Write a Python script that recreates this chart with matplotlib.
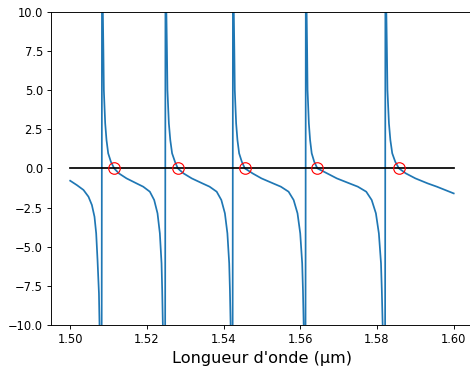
import numpy as np
import matplotlib
matplotlib.use("Agg")
import matplotlib.pyplot as plt

# values, one list per branch between the poles
lam_b0 = [1.5000, 1.50175, 1.50347, 1.50477, 1.50566, 1.50634, 1.50678,
          1.50713, 1.50750, 1.50765, 1.50815]
val_b0 = [-0.79, -1.07, -1.38, -1.81, -2.34, -3.09, -4.15, -5.85, -7.98,
          -10.0, -30.0]

# same levels on each full branch (pole -> zero -> next pole)
val_branch = [30.0, 10.0, 7.55, 5.0, 3.94, 2.87, 1.81, 0.96, 0.43, 0.0,
              -0.32, -0.64, -0.96, -1.17, -1.49, -2.02, -2.87, -4.15,
              -6.06, -7.77, -10.0, -30.0]

lam_b1 = [1.50835, 1.50852, 1.50866, 1.50878, 1.50895, 1.50913, 1.50947,
          1.50991, 1.51060, 1.51147, 1.51269, 1.51469, 1.51730, 1.51904,
          1.52077, 1.52190, 1.52277, 1.52338, 1.52382, 1.52399, 1.52416,
          1.52470]
lam_b2 = [1.52490, 1.52508, 1.52523, 1.52536, 1.52554, 1.52573, 1.52610,
          1.52657, 1.52731, 1.52807, 1.52954, 1.53169, 1.53448, 1.53635,
          1.53820, 1.53941, 1.54034, 1.54099, 1.54146, 1.54165, 1.54183,
          1.54230]
lam_b3 = [1.54249, 1.54266, 1.54280, 1.54292, 1.54309, 1.54327, 1.54361,
          1.54405, 1.54474, 1.54554, 1.54755, 1.54987, 1.55291, 1.55493,
          1.55694, 1.55826, 1.55927, 1.55998, 1.56049, 1.56069, 1.56088,
          1.56130]
lam_b4 = [1.56149, 1.56165, 1.56178, 1.56189, 1.56206, 1.56223, 1.56255,
          1.56297, 1.56362, 1.56445, 1.56699, 1.56951, 1.57281, 1.57500,
          1.57719, 1.57861, 1.57971, 1.58048, 1.58104, 1.58125, 1.58147,
          1.58205]

lam_b5 = [1.58224, 1.58243, 1.58258, 1.58272, 1.58291, 1.58311, 1.58348,
          1.58397, 1.58474, 1.58571, 1.58750, 1.59000, 1.59320, 1.59560,
          1.60000]
val_b5 = [30.0, 10.0, 7.55, 5.0, 3.94, 2.87, 1.81, 0.96, 0.43, 0.0, -0.32,
          -0.64, -0.96, -1.17, -1.60]

# zeros (red circles)
lam_zeros = [1.51147, 1.52807, 1.54554, 1.56445, 1.58571]
val_zeros = [0.0, 0.0, 0.0, 0.0, 0.0]

lam_ref = [1.50, 1.60]
val_ref = [0.0, 0.0]

lam = lam_b0 + lam_b1 + lam_b2 + lam_b3 + lam_b4 + lam_b5
val = val_b0 + val_branch * 4 + val_b5

fig = plt.figure(figsize=(470 / 83, 368 / 83), dpi=83)
ax = fig.add_axes([51 / 470, 43 / 368, 421.9 / 470, 313.3 / 368])

ax.plot(lam, val, color="C0")
ax.plot(lam_ref, val_ref, color="k")
ax.plot(lam_zeros, val_zeros, "o", mfc="none", mec="red", ms=10, mew=1.0)

ax.set_xlim(1.495, 1.605)
ax.set_ylim(-10, 10)
ax.spines["right"].set_visible(False)
ax.set_xlabel("Longueur d'onde (µm)", fontsize=14)

fig.savefig("out.png", dpi=83)
